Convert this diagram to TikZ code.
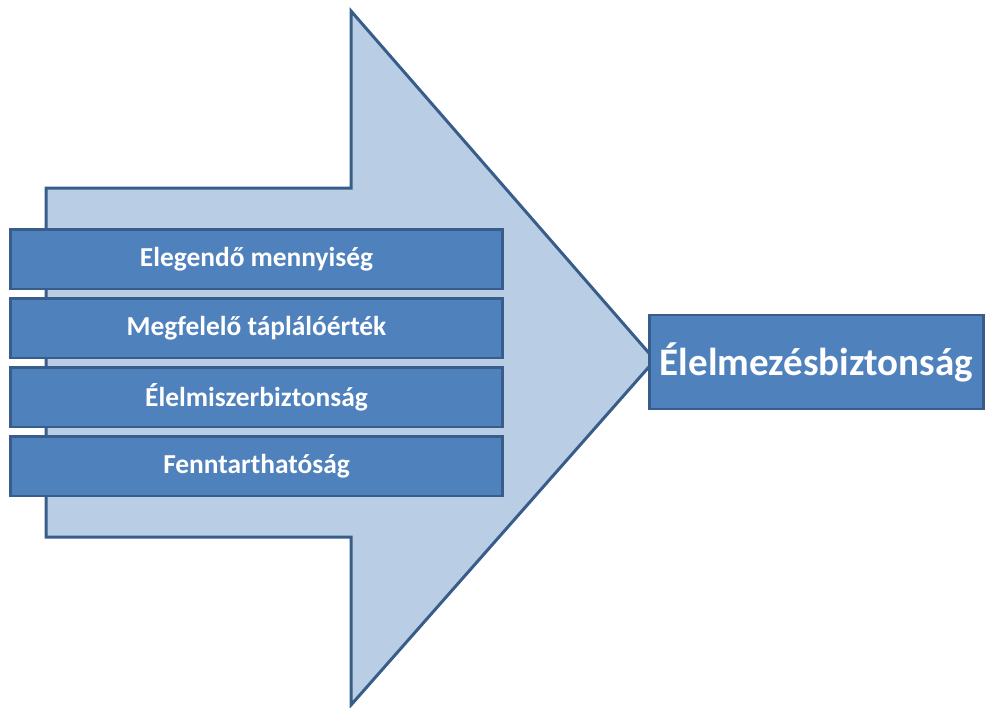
\documentclass[tikz,border=0pt]{standalone}
\usepackage{fontspec}
\setmainfont{Carlito}
\usetikzlibrary{positioning}
\definecolor{arrowfill}{HTML}{B9CDE5}
\definecolor{boxfill}{HTML}{4F81BD}
\definecolor{boxline}{HTML}{385D8A}
\begin{document}
\begin{tikzpicture}[x=1pt,y=-1pt,node distance=7pt,line join=miter]
\tikzstyle{block}=[rectangle,draw=boxline,fill=boxfill,line width=2.5pt,text=white,align=center,inner sep=0pt,minimum width=492pt,minimum height=59.5pt,font=\fontsize{27.4}{32}\selectfont\bfseries]
\useasboundingbox (0,0) rectangle (987,707);
% big arrow behind the boxes
\filldraw[fill=arrowfill,draw=boxline,line width=3pt] (46,188) -- (351,188) -- (351,11) -- (655,360) -- (351,705) -- (351,537) -- (46,537) -- cycle;
\node[block] (qty) at (256.5,259) {Elegendő mennyiség};
\node[block, below=of qty] (nutri) {Megfelelő táplálóérték};
\node[block, below=of nutri] (safety) {Élelmiszerbiztonság};
\node[block, below=of safety] (sustain) {Fenntarthatóság};
\node[block, minimum width=334pt, minimum height=94pt, font=\fontsize{39}{46}\selectfont\bfseries] (foodsec) at (816.5,362) {Élelmezésbiztonság};
\end{tikzpicture}
\end{document}
